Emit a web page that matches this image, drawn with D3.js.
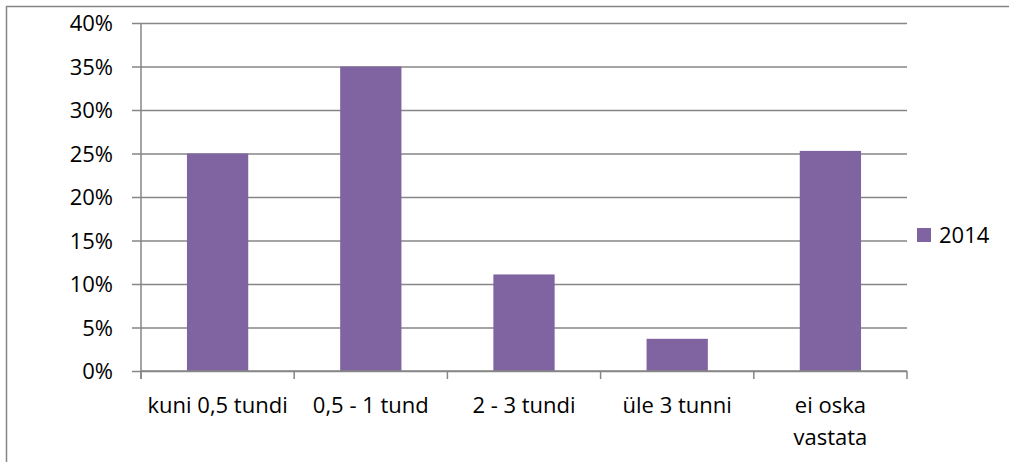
<!DOCTYPE html>
<html>
<head>
<meta charset="utf-8">
<script src="https://cdn.jsdelivr.net/npm/d3@7"></script>
<style>
  body { margin: 0; background: #fff; }
  svg text { font-family: "Open Sans", Lato, sans-serif; font-size: 22px; fill: #000; }
</style>
</head>
<body>
<svg id="chart" width="1009" height="462"></svg>
<script>
let categories = ["kuni 0,5 tundi", "0,5 - 1 tund", "2 - 3 tundi", "üle 3 tunni", "ei oska vastata"]
let values = [0.250, 0.350, 0.111, 0.037, 0.253]
let series_name = "2014"
let y_ticks = [0, 0.05, 0.10, 0.15, 0.20, 0.25, 0.30, 0.35, 0.40]

let margin = {top: 23, left: 141, right: 102, bottom: 91}
let width = 1009, height = 462
let bar_color = "#8064a2"
let grid_color = "#868686"

let svg = d3.select("#chart")

// outer chart border (only top and left fall inside the picture)
svg.append("rect")
  .attr("x", 6.5).attr("y", 6.5)
  .attr("width", 1100).attr("height", 600)
  .attr("fill", "none").attr("stroke", grid_color).attr("stroke-width", 1.5)

let x = d3.scaleBand()
  .domain(categories)
  .range([margin.left, width - margin.right])
  .paddingInner(0.6)
  .paddingOuter(0.3)

let y = d3.scaleLinear()
  .domain([0, 0.40])
  .range([height - margin.bottom, margin.top])

// gridlines + y labels
let y_axis = d3.axisLeft(y)
  .tickValues(y_ticks)
  .tickFormat(d3.format(".0%"))
  .tickSize(-(width - margin.right - margin.left))
  .tickPadding(28)

svg.append("g")
  .attr("transform", `translate(${margin.left}, 0)`)
  .call(y_axis)
  .attr("font-size", null).attr("font-family", null)
  .call(g => g.select(".domain").remove())
  .call(g => g.selectAll(".tick line")
    .attr("x1", -9)
    .attr("stroke", grid_color).attr("stroke-width", 1.5))
  .call(g => g.selectAll(".tick text").attr("dy", "0.35em"))

// vertical axis line
svg.append("line")
  .attr("x1", margin.left).attr("x2", margin.left)
  .attr("y1", y(0.40)).attr("y2", y(0) + 8)
  .attr("stroke", grid_color).attr("stroke-width", 1.5)

// bars
svg.append("g")
  .selectAll("rect")
  .data(values)
  .join("rect")
  .attr("x", (d, i) => x(categories[i]))
  .attr("width", x.bandwidth())
  .attr("y", d => y(d))
  .attr("height", d => y(0) - y(d))
  .attr("fill", bar_color)

// x axis with category separators
let step = x.step()
let bounds = d3.range(categories.length + 1).map(i => margin.left + i * step)
svg.append("line")
  .attr("x1", margin.left).attr("x2", width - margin.right)
  .attr("y1", y(0)).attr("y2", y(0))
  .attr("stroke", grid_color).attr("stroke-width", 1.5)
svg.append("g")
  .selectAll("line")
  .data(bounds)
  .join("line")
  .attr("x1", d => d).attr("x2", d => d)
  .attr("y1", y(0)).attr("y2", y(0) + 8)
  .attr("stroke", grid_color).attr("stroke-width", 1.5)

// category labels (wrap long ones)
let label_lines = categories.map(c => c == "ei oska vastata" ? ["ei oska", "vastata"] : [c])
svg.append("g")
  .selectAll("text")
  .data(categories)
  .join("text")
  .attr("x", d => x(d) + x.bandwidth() / 2)
  .attr("y", 413)
  .attr("text-anchor", "middle")
  .each(function (d, i) {
    d3.select(this).selectAll("tspan")
      .data(label_lines[i])
      .join("tspan")
      .attr("x", x(d) + x.bandwidth() / 2)
      .attr("dy", (t, j) => j == 0 ? 0 : 32)
      .text(t => t)
  })

// legend
let legend = svg.append("g").attr("transform", "translate(917, 228)")
legend.append("rect")
  .attr("width", 14).attr("height", 14)
  .attr("fill", bar_color)
legend.append("text")
  .attr("x", 22).attr("y", 15)
  .text(series_name)
</script>
</body>
</html>
